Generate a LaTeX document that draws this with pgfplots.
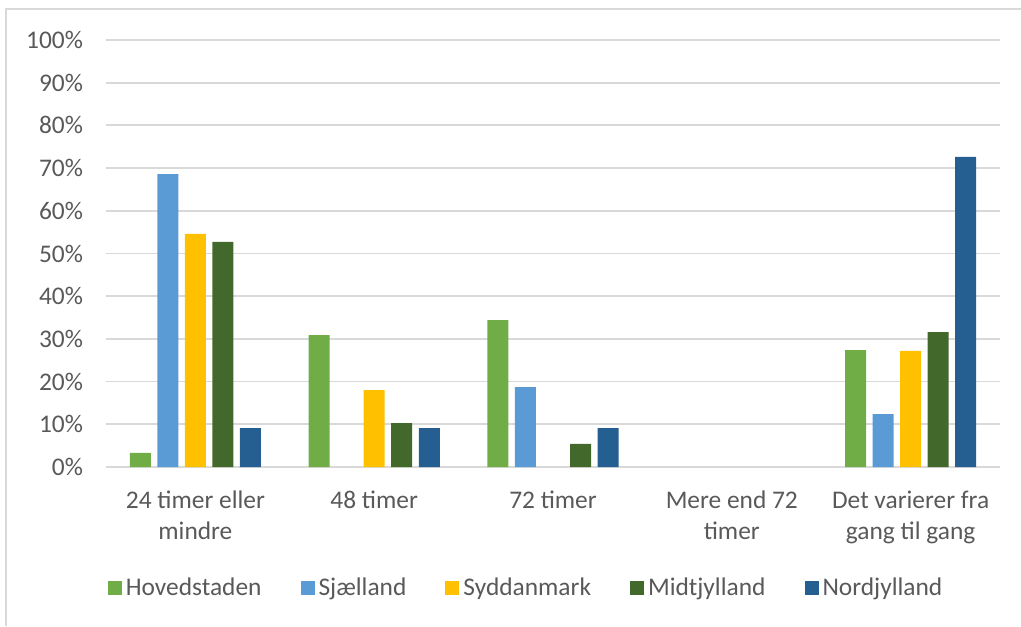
\documentclass[border=0pt]{standalone}
\usepackage{pgfplots}
\pgfplotsset{compat=1.18}
\usepackage{fontspec}
\setmainfont{Carlito}
\definecolor{hov}{HTML}{70AD47}
\definecolor{sja}{HTML}{5B9BD5}
\definecolor{syd}{HTML}{FFC000}
\definecolor{mid}{HTML}{43682B}
\definecolor{nor}{HTML}{255E91}
\definecolor{gridc}{HTML}{D9D9D9}
\definecolor{txt}{HTML}{595959}
\begin{document}
\begin{tikzpicture}
\useasboundingbox (-53pt,-79.5pt) rectangle (457.5pt,233.5pt);
\draw[gridc, line width=1pt] (-50pt,-79.5pt) -- (-50pt,229pt) -- (457.5pt,229pt);
\begin{axis}[
    at={(0,0)}, anchor=south west,
    scale only axis,
    width=447pt, height=213.5pt,
    xmin=-0.5, xmax=4.5,
    ymin=0, ymax=100,
    xtick={0,1,2,3,4},
    xticklabels={24 timer eller\\mindre, 48 timer, 72 timer, Mere end 72\\timer, Det varierer fra\\gang til gang},
    ytick={0,10,...,100},
    yticklabel={\pgfmathprintnumber{\tick}\%},
    /pgf/number format/assume math mode=true,
    major tick length=0pt,
    axis line style={draw=none},
    ymajorgrids,
    major grid style={draw=gridc, line width=0.9pt},
    tick label style={font=\fontsize{12.7}{15.5}\selectfont, text=txt},
    xticklabel style={align=center, yshift=-8.5pt},
    yticklabel style={xshift=-8pt},
    ybar,
    bar width=0.1175,
    legend columns=5,
    legend style={draw=none, at={(0.471,-0.283)}, anchor=center,
        font=\fontsize{12.7}{15.5}\selectfont, text=txt,
        /tikz/every even column/.append style={column sep=17.5pt}},
    legend image code/.code={\fill[#1] (0pt,-3.5pt) rectangle (7pt,3.5pt);},
]
% zero values are left out, as the reference draws nothing for them
\addplot[fill=hov, draw=none, bar shift=-0.308] coordinates {(0,3.3) (1,30.9) (2,34.4) (4,27.4)};
\addlegendentry{Hovedstaden}
\addplot[fill=sja, draw=none, bar shift=-0.154] coordinates {(0,68.6) (2,18.7) (4,12.4)};
\addlegendentry{Sjælland}
\addplot[fill=syd, draw=none, bar shift=0] coordinates {(0,54.6) (1,18.0) (4,27.2)};
\addlegendentry{Syddanmark}
\addplot[fill=mid, draw=none, bar shift=0.154] coordinates {(0,52.7) (1,10.3) (2,5.4) (4,31.6)};
\addlegendentry{Midtjylland}
\addplot[fill=nor, draw=none, bar shift=0.308] coordinates {(0,9.1) (1,9.1) (2,9.1) (4,72.6)};
\addlegendentry{Nordjylland}
\end{axis}
\end{tikzpicture}
\end{document}
